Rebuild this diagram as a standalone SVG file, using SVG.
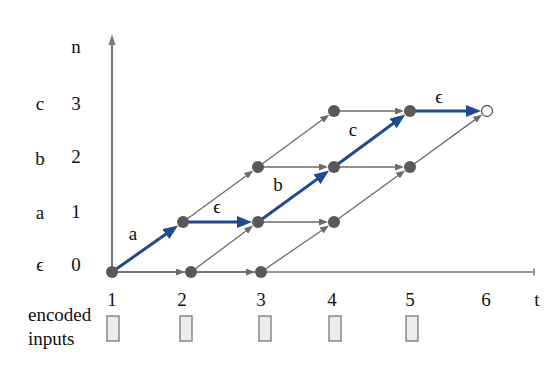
<svg xmlns="http://www.w3.org/2000/svg" width="551" height="371" viewBox="0 0 551 371">
<defs>
<style>
text{font-family:"Liberation Serif","DejaVu Serif",serif;font-size:19px;fill:#111;text-anchor:middle}
.g{stroke:#6b6b6b;stroke-width:1.3;fill:none;marker-end:url(#ga)}
.b{stroke:#1f4a8e;stroke-width:3;fill:none;marker-end:url(#ba)}
.n{fill:#595959}
.o{fill:#fff;stroke:#595959;stroke-width:1.3}
.ax{stroke:#777;stroke-width:2;fill:none}
.in{fill:#ececec;stroke:#777;stroke-width:1.3}
</style>
<marker id="ga" markerUnits="userSpaceOnUse" markerWidth="9" markerHeight="7" refX="5" refY="3.5" orient="auto"><path d="M0,0 L9,3.5 L0,7 z" fill="#6b6b6b"/></marker>
<marker id="ba" markerUnits="userSpaceOnUse" markerWidth="15" markerHeight="12" refX="5" refY="6" orient="auto"><path d="M0,0 L15,6 L0,12 z" fill="#1f4a8e"/></marker>
</defs>
<rect width="551" height="371" fill="#fff"/>
<g id="axes">
<path class="ax" d="M112,272 V42"/>
<polygon points="112,34 108.5,45 115.5,45" fill="#777"/>
<path class="ax" d="M112,272 H534 M534,268.5 V275.5" style="stroke-width:1.5"/>
</g>
<g id="labels">
<text x="76" y="53">n</text>
<text x="40" y="110">c</text><text x="76" y="110">3</text>
<text x="40" y="165">b</text><text x="76" y="163">2</text>
<text x="40" y="219">a</text><text x="76" y="218">1</text>
<text x="40" y="271">ϵ</text><text x="76" y="271">0</text>
<text x="112" y="306">1</text><text x="182" y="306">2</text><text x="261" y="306">3</text>
<text x="332" y="306">4</text><text x="410" y="306">5</text><text x="486" y="306">6</text>
<text x="537" y="306">t</text>
<text x="28" y="321" style="text-anchor:start">encoded</text>
<text x="28" y="345" style="text-anchor:start">inputs</text>
</g>
<g id="inputs">
<rect class="in" x="107" y="316" width="12" height="25"/>
<rect class="in" x="180" y="316" width="12" height="25"/>
<rect class="in" x="259" y="316" width="12" height="25"/>
<rect class="in" x="329" y="316" width="12" height="25"/>
<rect class="in" x="406" y="316" width="12" height="25"/>
</g>
<g id="connectors">
<path class="g" d="M112,272 L181,272"/>
<path class="g" d="M191,272 L251,272"/>
<path class="g" d="M191,272 L250,228"/>
<path class="g" d="M261,272 L325.7,227.7"/>
<path class="g" d="M183,222 L250,172.9"/>
<path class="g" d="M258,222 L324,222"/>
<path class="g" d="M258,167 L324,167"/>
<path class="g" d="M258,167 L326,117"/>
<path class="g" d="M334,222 L401.9,172.8"/>
<path class="g" d="M334,167 L400,167"/>
<path class="g" d="M334,111 L400,111"/>
<path class="g" d="M410,167 L478.9,116.9"/>
<path class="b" d="M112,272 L169.9,231.3"/>
<path class="b" d="M183,222 L242,222"/>
<path class="b" d="M258,222 L321,176.4"/>
<path class="b" d="M334,167 L397.2,120.5"/>
<path class="b" d="M410,111 L471,111"/>
<text x="133" y="240">a</text>
<text x="217" y="213">ϵ</text>
<text x="278" y="191">b</text>
<text x="353" y="136">c</text>
<text x="439" y="103">ϵ</text>
</g>
<g id="n10"><circle class="n" cx="112" cy="272" r="6"/></g>
<g id="n20"><circle class="n" cx="191" cy="272" r="6"/></g>
<g id="n30"><circle class="n" cx="261" cy="272" r="6"/></g>
<g id="n21"><circle class="n" cx="183" cy="222" r="6"/></g>
<g id="n31"><circle class="n" cx="258" cy="222" r="6"/></g>
<g id="n41"><circle class="n" cx="334" cy="222" r="6"/></g>
<g id="n32"><circle class="n" cx="258" cy="167" r="6"/></g>
<g id="n42"><circle class="n" cx="334" cy="167" r="6"/></g>
<g id="n52"><circle class="n" cx="410" cy="167" r="6"/></g>
<g id="n43"><circle class="n" cx="334" cy="111" r="6"/></g>
<g id="n53"><circle class="n" cx="410" cy="111" r="6"/></g>
<g id="n63"><circle class="o" cx="487" cy="111" r="5.5"/></g>
</svg>
